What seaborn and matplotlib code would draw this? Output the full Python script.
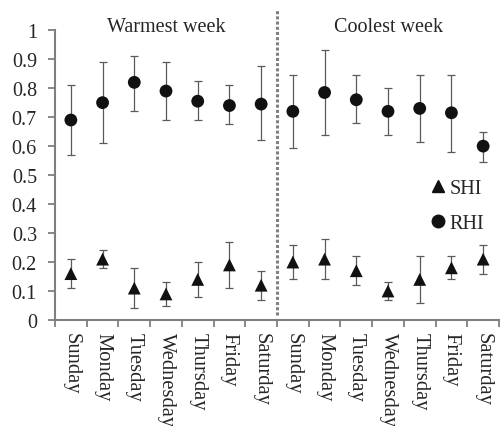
import numpy as np
import pandas as pd
import seaborn as sns
import matplotlib.pyplot as plt
from matplotlib.lines import Line2D

days = ["Sunday", "Monday", "Tuesday", "Wednesday", "Thursday", "Friday", "Saturday"]
categories = days + days

shi = [0.16, 0.21, 0.11, 0.09, 0.14, 0.19, 0.12, 0.20, 0.21, 0.17, 0.10, 0.14, 0.18, 0.21]
shi_lo = [0.11, 0.18, 0.04, 0.05, 0.08, 0.11, 0.07, 0.14, 0.14, 0.12, 0.07, 0.06, 0.14, 0.16]
shi_hi = [0.21, 0.24, 0.18, 0.13, 0.20, 0.27, 0.17, 0.26, 0.28, 0.22, 0.13, 0.22, 0.22, 0.26]

rhi = [0.69, 0.75, 0.82, 0.79, 0.755, 0.74, 0.745, 0.72, 0.785, 0.76, 0.72, 0.73, 0.715, 0.60]
rhi_lo = [0.57, 0.61, 0.72, 0.69, 0.69, 0.675, 0.62, 0.595, 0.64, 0.68, 0.64, 0.615, 0.58, 0.545]
rhi_hi = [0.81, 0.89, 0.91, 0.89, 0.825, 0.81, 0.875, 0.845, 0.93, 0.845, 0.80, 0.845, 0.845, 0.65]

week_labels = ["Warmest week", "Coolest week"]
yticks = [0, 0.1, 0.2, 0.3, 0.4, 0.5, 0.6, 0.7, 0.8, 0.9, 1]
ytick_labels = ["0", "0.1", "0.2", "0.3", "0.4", "0.5", "0.6", "0.7", "0.8", "0.9", "1"]

sns.set_style("ticks")
plt.rcParams['font.family'] = ['Liberation Serif', 'DejaVu Serif']

n = len(categories)
pos = list(range(n))
df = pd.DataFrame({
    "pos": pos + pos,
    "value": shi + rhi,
    "lo": shi_lo + rhi_lo,
    "hi": shi_hi + rhi_hi,
    "series": ["SHI"] * n + ["RHI"] * n,
})

fig = plt.figure(figsize=(5.01, 4.27), dpi=100)
ax = fig.add_axes([55 / 501, 1 - 321 / 427, 444 / 501, 313 / 427])

for name, g in df.groupby("series", sort=False):
    ax.errorbar(g["pos"], g["value"],
                yerr=[g["value"] - g["lo"], g["hi"] - g["value"]],
                fmt="none", ecolor="#5a5a5a", elinewidth=0.9,
                capsize=2.7, capthick=0.9, zorder=2)

sns.scatterplot(data=df, x="pos", y="value", style="series",
                markers={"SHI": "^", "RHI": "o"}, color="#111111",
                s=85, edgecolor="none", linewidth=0, ax=ax, zorder=3, legend=False)

ax.plot([6.5, 6.5], [0.017, 1.072], color="#808080", lw=2.2,
        linestyle=(0, (1, 0.7)), zorder=1, clip_on=False)

ax.text(3, 1.012, week_labels[0], ha="center", va="center", fontsize=14.5)
ax.text(10, 1.012, week_labels[1], ha="center", va="center", fontsize=14.5)

ax.set_xlim(-0.5, n - 0.5)
ax.set_ylim(0, 1.08)
ax.set_yticks(yticks)
ax.set_yticklabels(ytick_labels, fontsize=14.5)
ax.set_xticks(pos)
ax.set_xticklabels(categories, rotation=270, fontsize=14.8, va="top", ha="center")
ax.set_xticks(np.arange(-0.5, n, 1), minor=True)
ax.tick_params(axis="x", which="major", length=0, pad=9)
ax.tick_params(axis="x", which="minor", length=5, width=1.3, color="#7f7f7f")
ax.tick_params(axis="y", length=5, width=1.3, color="#7f7f7f", pad=8)
ax.set_xlabel("")
ax.set_ylabel("")

sns.despine(ax=ax)
ax.spines["left"].set_bounds(0, 1)
for sp in ("left", "bottom"):
    ax.spines[sp].set_color("#7f7f7f")
    ax.spines[sp].set_linewidth(1.5)

handles = [
    Line2D([], [], marker="^", color="#111111", linestyle="none", markersize=9),
    Line2D([], [], marker="o", color="#111111", linestyle="none", markersize=9),
]
ax.legend(handles, ["SHI", "RHI"], loc="upper left", bbox_to_anchor=(0.845, 0.452),
          frameon=False, fontsize=14.5, handlelength=0.8, handletextpad=0.15,
          labelspacing=0.8, borderpad=0, borderaxespad=0)

fig.savefig("out.png", dpi=100)
